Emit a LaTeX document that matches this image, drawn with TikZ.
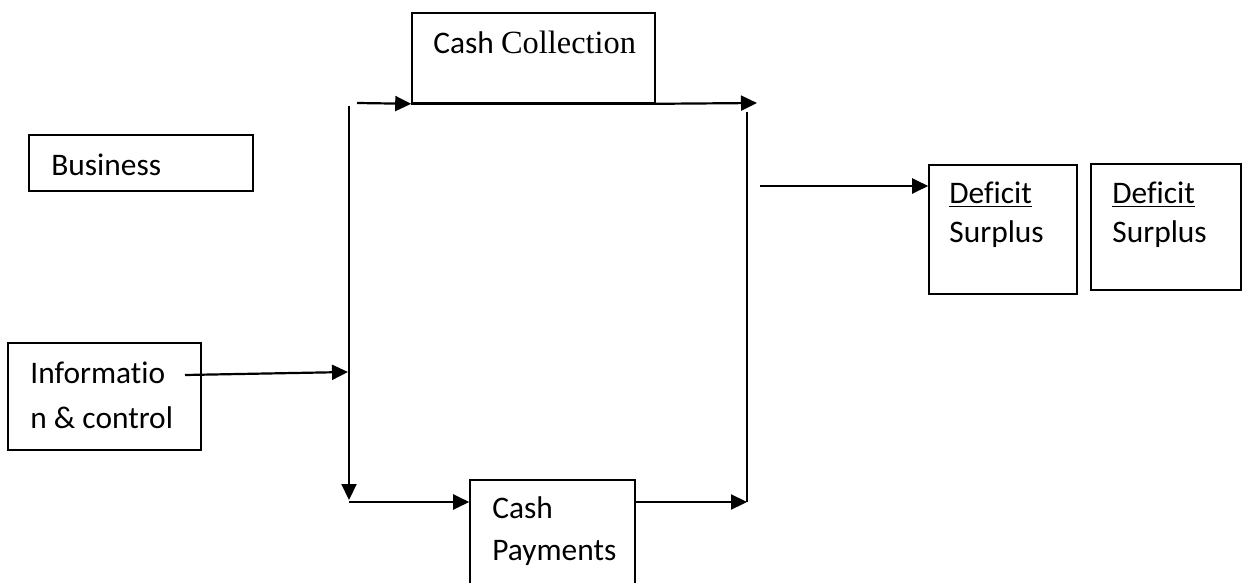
\documentclass[tikz,border=0pt]{standalone}
\usepackage{fontspec}
\setmainfont{Carlito}[Ligatures={NoCommon}]
\newfontfamily\timesfont{Liberation Serif}[Ligatures={NoCommon}]
\usetikzlibrary{arrows.meta,fit}
\begin{document}
\begin{tikzpicture}[x=0.5pt,y=-0.5pt,
  box/.style={draw, line width=0.8pt, inner sep=0pt},
  lbl/.style={anchor=base west, inner sep=0pt, font=\fontsize{15.7}{18}\selectfont},
  conn/.style={line width=1.1pt, -{Triangle[length=8pt,width=7.5pt]}},
  plainline/.style={line width=1.1pt}]
\useasboundingbox[fill=white] (0,0) rectangle (1242,583);
% boxes
\node[box, fit={(412,13) (655,103)}] (cc) {};
\node[box, fit={(29,135) (253,191)}] (bus) {};
\node[box, fit={(8,343) (201,450)}] (info) {};
\node[box, fit={(470,480) (635,590)}] (cp) {};
\node[box, fit={(929,165) (1077,294)}] (def1) {};
\node[box, fit={(1091,164) (1241,290)}] (def2) {};
% texts
\node[lbl] (cctext) at (433,54) {Cash {\timesfont\fontsize{16.2}{18}\selectfont Collection}};
\node[lbl] (bustext) at (51,176) {Business};
\node[lbl] (infotext1) at (30,383) {Informatio};
\node[lbl] (infotext2) at (30,428) {n \& control};
\node[lbl] (cptext1) at (492,518) {Cash};
\node[lbl] (cptext2) at (492,560) {Payments};
\node[lbl] (d1a) at (949,203) {\underline{Deficit}};
\node[lbl] (d1b) at (949,242) {Surplus};
\node[lbl] (d2a) at (1112,203) {\underline{Deficit}};
\node[lbl] (d2b) at (1112,242) {Surplus};
% coordinates
\coordinate (tl) at (357,103);
\coordinate (tr) at (757,103);
\coordinate (lvtop) at (349,106);
\coordinate (lvbot) at (349,500);
\coordinate (bl) at (349,502);
\coordinate (br) at (747,502);
\coordinate (rvtop) at (747,112);
\coordinate (infostart) at (185,375);
\coordinate (infoend) at (348,372);
\coordinate (mid) at (760,186);
% connectors
\draw[conn] (tl) -- (cc.south west);
\draw[plainline] (cc.south west) -- (cc.south east);
\draw[conn] (cc.south east) -- (tr);
\draw[conn] (lvtop) -- (lvbot);
\draw[conn] (bl) -- (bl -| cp.west);
\draw[conn] (br -| cp.east) -- (br);
\draw[plainline] (rvtop) -- (br);
\draw[conn] (infostart) -- (infoend);
\draw[conn] (mid) -- (mid -| def1.west);
\end{tikzpicture}
\end{document}
